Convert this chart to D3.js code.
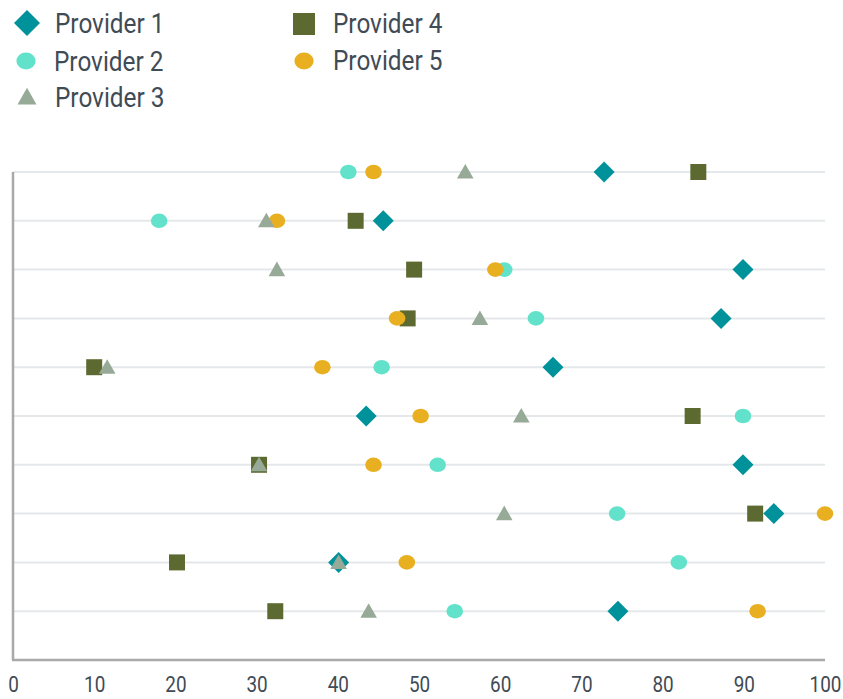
<!DOCTYPE html>
<html>
<head>
<meta charset="utf-8">
<script src="https://cdn.jsdelivr.net/npm/d3@7"></script>
<style>
  html, body { margin: 0; padding: 0; background: #fff; }
  svg { display: block; }
  text { font-family: "Roboto", "DejaVu Sans", sans-serif; fill: #3f4b55; }
</style>
</head>
<body>
<svg id="chart" width="843" height="699"></svg>
<script>
// Rows, top to bottom
const items = ["A", "B", "C", "D", "E", "F", "G", "H", "I", "J"];

// Scores per provider, one value per row
const provider1 = [72.8, 45.6, 89.9, 87.2, 66.5, 43.5, 89.9, 93.7, 40.1, 74.5];
const provider2 = [41.3, 18.0, 60.5, 64.4, 45.4, 89.9, 52.3, 74.4, 82.0, 54.4];
const provider3 = [55.7, 31.2, 32.5, 57.5, 11.6, 62.6, 30.3, 60.5, 40.1, 43.8];
const provider4 = [84.4, 42.2, 49.4, 48.6, 10.0, 83.7, 30.3, 91.4, 20.2, 32.3];
const provider5 = [44.4, 32.5, 59.4, 47.3, 38.1, 50.2, 44.4, 100, 48.5, 91.7];

const xTicks = [0, 10, 20, 30, 40, 50, 60, 70, 80, 90, 100];

const series = [
  { name: "Provider 1", values: provider1, shape: "diamond",  color: "#00929b" },
  { name: "Provider 2", values: provider2, shape: "circle",   color: "#63e2cb" },
  { name: "Provider 3", values: provider3, shape: "triangle", color: "#97aa98" },
  { name: "Provider 4", values: provider4, shape: "square",   color: "#5c6a31" },
  { name: "Provider 5", values: provider5, shape: "circle",   color: "#e8b021" }
];

const svg = d3.select("#chart");
const plot = { left: 13, right: 825, top: 172, bottom: 660 };

const x = d3.scaleLinear().domain([0, 100]).range([plot.left, plot.right]);
const step = (plot.bottom - plot.top) / items.length;
const y = d3.scalePoint().domain(items).range([plot.top, plot.bottom - step]);

// horizontal guide lines per row
svg.append("g").selectAll("line").data(items).join("line")
  .attr("x1", plot.left).attr("x2", plot.right)
  .attr("y1", d => y(d)).attr("y2", d => y(d))
  .attr("stroke", "#e5e8ea").attr("stroke-width", 2);

// axis lines
svg.append("line").attr("x1", plot.left).attr("x2", plot.left).attr("y1", plot.top).attr("y2", plot.bottom)
  .attr("stroke", "#a9a9a9").attr("stroke-width", 2.5);
svg.append("line").attr("x1", plot.left - 1).attr("x2", plot.right).attr("y1", plot.bottom).attr("y2", plot.bottom)
  .attr("stroke", "#a9a9a9").attr("stroke-width", 2.5);

// x tick labels via d3 axis, narrowed horizontally
const xAxis = svg.append("g").attr("transform", `translate(0,${plot.bottom})`)
  .call(d3.axisBottom(x).tickValues(xTicks).tickSize(0).tickPadding(0).tickFormat(d3.format("d")));
xAxis.select(".domain").remove();
xAxis.selectAll("text")
  .attr("y", 0).attr("dy", null)
  .attr("transform", "translate(0,32) scale(0.86,1)")
  .attr("font-size", 22).attr("fill", "#4a5560");

// marker outlines, size k = half width
function shapePath(shape, k) {
  const p = d3.path();
  if (shape === "diamond") {
    p.moveTo(0, -k); p.lineTo(k, 0); p.lineTo(0, k); p.lineTo(-k, 0); p.closePath();
  } else if (shape === "square") {
    p.rect(-k, -k, 2 * k, 2 * k);
  } else if (shape === "triangle") {
    const h = k * 1.75;
    p.moveTo(0, -h * 0.55); p.lineTo(k, h * 0.45); p.lineTo(-k, h * 0.45); p.closePath();
  }
  return p.toString();
}

const plotSize = { diamond: 10.5, square: 8, triangle: 8.3, circle: 8.3 };
const legendSize = { diamond: 13, square: 11, triangle: 9.5, circle: 9.6 };

function drawMark(g, shape, color, sizes) {
  const k = sizes[shape];
  if (shape === "circle") {
    g.append("ellipse").attr("rx", k).attr("ry", k * 0.88).attr("fill", color);
  } else {
    g.append("path").attr("d", shapePath(shape, k)).attr("fill", color);
  }
}

// draw order keeps the triangles on top
const order = [0, 1, 3, 4, 2];
const marks = svg.append("g");
order.forEach(si => {
  const s = series[si];
  s.values.forEach((v, i) => {
    const g = marks.append("g").attr("transform", `translate(${x(v)},${y(items[i])})`);
    drawMark(g, s.shape, s.color, plotSize);
  });
});

// legend
const legendPos = [
  { x: 27, y: 23 }, { x: 26, y: 61 }, { x: 27, y: 97 },
  { x: 304, y: 24 }, { x: 304, y: 61 }
];
const legend = svg.append("g");
series.forEach((s, i) => {
  const p = legendPos[i];
  const g = legend.append("g").attr("transform", `translate(${p.x},${p.y})`);
  drawMark(g, s.shape, s.color, legendSize);
  g.append("text")
    .attr("transform", `translate(${i < 3 ? 28 : 29},${i < 3 ? 10 : 9}) scale(0.87,1)`)
    .attr("font-size", 28).text(s.name);
});
</script>
</body>
</html>
